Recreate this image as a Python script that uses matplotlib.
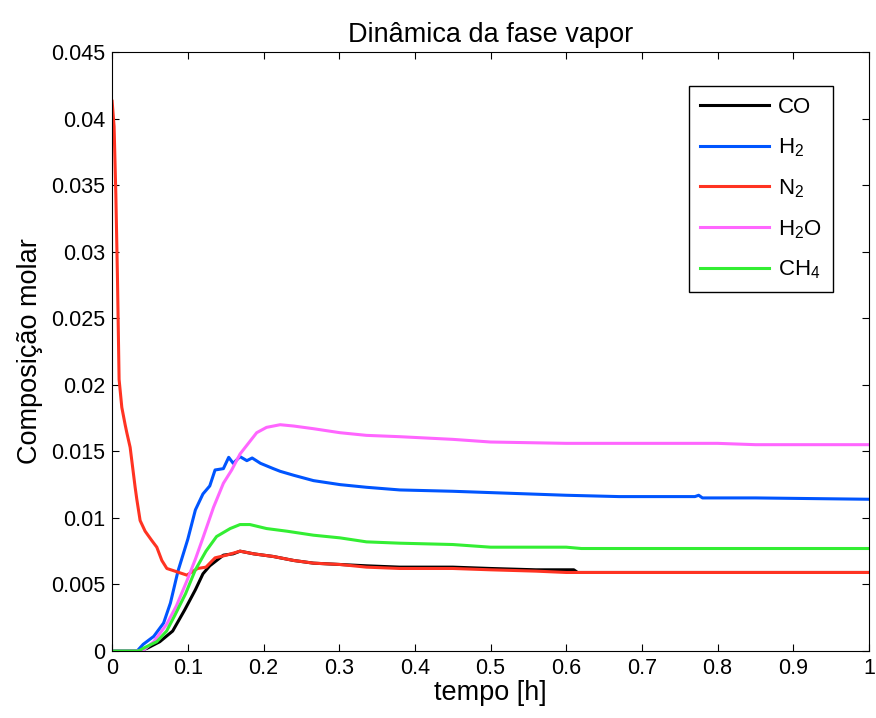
import numpy as np
import matplotlib.pyplot as plt

plt.rcParams['font.family'] = ['Liberation Sans', 'DejaVu Sans']
plt.rcParams['mathtext.default'] = 'regular'

# tempo [h] e composicao molar
t_co = [0, 0.035, 0.046, 0.063, 0.08, 0.096, 0.11, 0.12, 0.129, 0.138, 0.147, 0.160, 0.169,
        0.187, 0.213, 0.240, 0.266, 0.301, 0.336, 0.38, 0.45, 0.5, 0.56, 0.61, 0.615, 0.8, 1.0]
co = [0, 0, 0.0002, 0.0007, 0.0015, 0.0031, 0.0046, 0.0058, 0.0064, 0.0068, 0.0072, 0.0073, 0.0075,
      0.0073, 0.0071, 0.0068, 0.0066, 0.0065, 0.0064, 0.0063, 0.0063, 0.0062, 0.0061, 0.0061, 0.0059, 0.0059, 0.0059]

t_h2 = [0, 0.033, 0.041, 0.055, 0.068, 0.077, 0.087, 0.1, 0.110, 0.12, 0.129, 0.136, 0.147, 0.154, 0.160,
        0.169, 0.178, 0.185, 0.196, 0.213, 0.222, 0.240, 0.266, 0.301, 0.336, 0.38, 0.45, 0.5, 0.6,
        0.67, 0.77, 0.775, 0.78, 0.85, 1.0]
h2 = [0, 0, 0.0005, 0.0011, 0.0021, 0.0036, 0.0060, 0.0084, 0.0106, 0.0118, 0.0124, 0.0136, 0.0137, 0.01455, 0.0141,
      0.0146, 0.0143, 0.0145, 0.0141, 0.0137, 0.0135, 0.0132, 0.0128, 0.0125, 0.0123, 0.0121, 0.0120, 0.0119, 0.0117,
      0.0116, 0.0116, 0.0117, 0.0115, 0.0115, 0.0114]

t_n2 = [0, 0.0026, 0.0049, 0.007, 0.0092, 0.0128, 0.0172, 0.0194, 0.0238, 0.026, 0.0304, 0.0326, 0.037,
        0.0436, 0.0524, 0.059, 0.0657, 0.0723, 0.083, 0.0987, 0.113, 0.124, 0.136, 0.151, 0.169, 0.187, 0.213,
        0.240, 0.266, 0.301, 0.336, 0.38, 0.45, 0.5, 0.56, 0.6, 0.8, 1.0]
n2 = [0.0413, 0.0394, 0.0343, 0.0282, 0.0204, 0.0183, 0.0170, 0.0164, 0.0153, 0.0143, 0.0123, 0.0114, 0.0098,
      0.0090, 0.0083, 0.0078, 0.0068, 0.0062, 0.0060, 0.0057, 0.0062, 0.0063, 0.0070, 0.0072, 0.0075, 0.0073, 0.0071,
      0.0068, 0.0066, 0.0065, 0.0063, 0.0062, 0.0062, 0.0061, 0.0060, 0.0059, 0.0059, 0.0059]

t_h2o = [0, 0.04, 0.055, 0.072, 0.085, 0.099, 0.11, 0.12, 0.134, 0.147, 0.158, 0.169, 0.180, 0.191,
         0.204, 0.222, 0.240, 0.266, 0.301, 0.336, 0.38, 0.45, 0.5, 0.6, 0.8, 0.85, 1.0]
h2o = [0, 0, 0.0007, 0.0020, 0.0034, 0.0053, 0.0069, 0.0085, 0.0108, 0.0126, 0.0136, 0.0148, 0.0156, 0.0164,
       0.0168, 0.0170, 0.0169, 0.0167, 0.0164, 0.0162, 0.0161, 0.0159, 0.0157, 0.0156, 0.0156, 0.0155, 0.0155]

t_ch4 = [0, 0.035, 0.041, 0.059, 0.072, 0.083, 0.097, 0.11, 0.124, 0.138, 0.156, 0.169, 0.182, 0.204,
         0.231, 0.266, 0.301, 0.336, 0.38, 0.45, 0.5, 0.6, 0.62, 1.0]
ch4 = [0, 0, 0.0002, 0.0007, 0.0015, 0.0027, 0.0043, 0.0061, 0.0075, 0.0086, 0.0092, 0.0095, 0.0095, 0.0092,
       0.0090, 0.0087, 0.0085, 0.0082, 0.0081, 0.0080, 0.0078, 0.0078, 0.0077, 0.0077]

fig = plt.figure(figsize=(8.76, 7.18), dpi=100)
ax = fig.add_axes([0.128, 0.0933, 0.864, 0.8343])

ax.plot(t_co, co, color='black', lw=2.2, label='CO')
ax.plot(t_h2, h2, color='#0055ff', lw=2.2, label='H$_2$')
ax.plot(t_n2, n2, color='#ff3322', lw=2.2, label='N$_2$')
ax.plot(t_h2o, h2o, color='#ff66ff', lw=2.2, label='H$_2$O')
ax.plot(t_ch4, ch4, color='#33ee33', lw=2.2, label='CH$_4$')

ax.set_xlim(0, 1)
ax.set_ylim(0, 0.045)
ax.set_xticks(np.arange(0, 1.01, 0.1))
ax.set_xticklabels(['0', '0.1', '0.2', '0.3', '0.4', '0.5', '0.6', '0.7', '0.8', '0.9', '1'])
yt = np.arange(0, 0.0451, 0.005)
ax.set_yticks(yt)
ax.set_yticklabels(['%g' % round(v, 3) for v in yt])
ax.tick_params(direction='in', top=True, right=True, labelsize=15.5, length=5, pad=5)

ax.set_title('Dinâmica da fase vapor', fontsize=19.5, pad=7)
ax.set_xlabel('tempo [h]', fontsize=19.5, labelpad=1)
ax.set_ylabel('Composição molar', fontsize=19.5, labelpad=6)

leg = ax.legend(loc='upper right', bbox_to_anchor=(0.9524, 0.9433), borderaxespad=0, fontsize=16,
                handlelength=3.1, handletextpad=0.42, labelspacing=0.82, fancybox=False,
                framealpha=1, edgecolor='black', borderpad=0.5)
leg.get_frame().set_linewidth(1)

plt.savefig('out.png', dpi=100)
